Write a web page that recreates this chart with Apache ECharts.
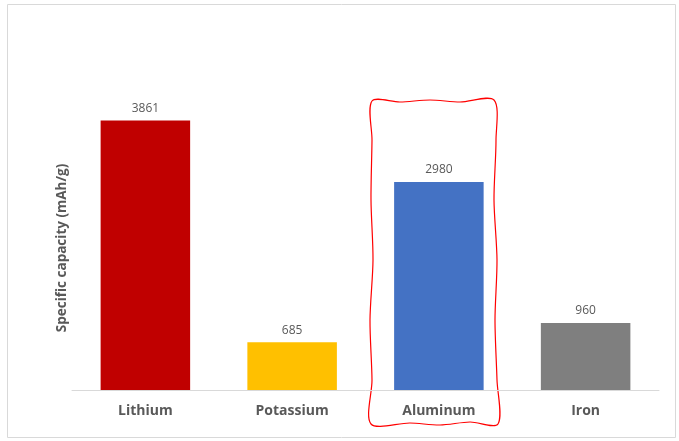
<!DOCTYPE html>
<html>
<head>
<meta charset="utf-8">
<script src="https://cdn.jsdelivr.net/npm/echarts@6/dist/echarts.min.js"></script>
<style>
  html, body { margin: 0; padding: 0; background: #fff; }
  #chart { width: 679px; height: 441px; }
</style>
</head>
<body>
<div id="chart"></div>
<script>
  // metals and their specific capacity
  const metals = ['Lithium', 'Potassium', 'Aluminum', 'Iron'];
  const capacity = [3861, 685, 2980, 960];
  const barColors = ['#C00000', '#FFC000', '#4472C4', '#7F7F7F'];
  const yTitle = 'Specific capacity (mAh/g)';

  const chart = echarts.init(document.getElementById('chart'));

  // hand drawn red box round Aluminum
  const wobbly = [
    [372, 101], [400, 102], [430, 100], [460, 102], [494, 100],
    [496, 140], [494, 200], [497, 260], [495, 320], [497, 380], [498, 424],
    [470, 422], [440, 425], [410, 423], [371, 424],
    [372, 380], [370, 320], [373, 260], [371, 200], [372, 140]
  ];

  chart.setOption({
    animation: false,
    textStyle: { fontFamily: 'Open Sans' },
    grid: { left: 72, right: 20, top: 41, bottom: 51 },
    xAxis: {
      type: 'category',
      data: metals,
      axisLine: { lineStyle: { color: '#d9d9d9' } },
      axisTick: { show: false },
      axisLabel: { color: '#595959', fontSize: 14, fontWeight: 'bold', margin: 14 }
    },
    yAxis: {
      type: 'value',
      min: 0,
      max: 5000,
      axisLabel: { show: false },
      splitLine: { show: false },
      axisLine: { show: false },
      axisTick: { show: false }
    },
    series: [{
      type: 'bar',
      barWidth: '61%',
      data: capacity.map((v, i) => ({ value: v, itemStyle: { color: barColors[i] } })),
      label: { show: true, position: 'top', distance: 6, color: '#595959', fontSize: 12 }
    }],
    graphic: [
      {
        type: 'rect',
        shape: { x: 7.5, y: 4.5, width: 668, height: 433 },
        style: { fill: 'none', stroke: '#d9d9d9', lineWidth: 1 },
        silent: true
      },
      {
        type: 'text',
        x: 62,
        y: 248,
        rotation: Math.PI / 2,
        style: {
          text: yTitle,
          fill: '#595959',
          font: 'bold 13.5px "Open Sans"',
          align: 'center',
          verticalAlign: 'middle'
        },
        silent: true
      },
      {
        type: 'polygon',
        shape: { points: wobbly, smooth: 0.3 },
        style: { fill: 'none', stroke: '#ff0000', lineWidth: 1.2 },
        silent: true
      }
    ]
  });
</script>
</body>
</html>
